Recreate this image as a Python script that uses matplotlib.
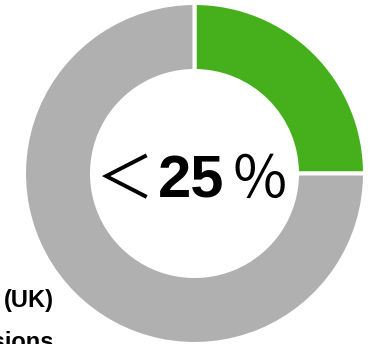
import matplotlib.pyplot as plt

# share of the total, drawn clockwise from 12 o'clock
labels = ["UK", "Rest"]
shares = [25, 75]
colors = ["#45B01C", "#B0B0B0"]
centre_prefix = "＜"
centre_value = "25"
centre_suffix = "％"
side_lines = ["(UK)", "Emissions"]

W, H = 381, 344
fig = plt.figure(figsize=(W / 100, H / 100), dpi=100)
ax = fig.add_axes([0, 0, 1, 1])

cx, cy = 194.5, H - 173.5
ax.pie(shares, colors=colors, startangle=90, counterclock=False,
       radius=170.5, center=(cx, cy),
       wedgeprops=dict(width=68, edgecolor="white", linewidth=2.9))
ax.set_xlim(0, W)
ax.set_ylim(0, H)
ax.set_aspect("auto")
ax.axis("off")

# centre label: thin full-width signs around bold digits
base = H - 198
cjk = ["Noto Sans CJK JP", "DejaVu Sans"]
ax.text(191.5, base, centre_value, ha="center", va="baseline",
        fontsize=43, fontweight="bold", family="Liberation Sans")
ax.text(125, base, centre_prefix, ha="center", va="baseline",
        fontsize=42, fontweight="normal", family=cjk)
ax.text(260, base, centre_suffix, ha="center", va="baseline",
        fontsize=42, fontweight="normal", family=cjk)

# side caption, partly outside the canvas
ax.text(54, H - 307, side_lines[0], ha="right", va="baseline",
        fontsize=17, fontweight="bold", family="Liberation Sans")
ax.text(54, H - 349, side_lines[1], ha="right", va="baseline",
        fontsize=17, fontweight="bold", family="Liberation Sans")

fig.savefig("out.png", dpi=100)
